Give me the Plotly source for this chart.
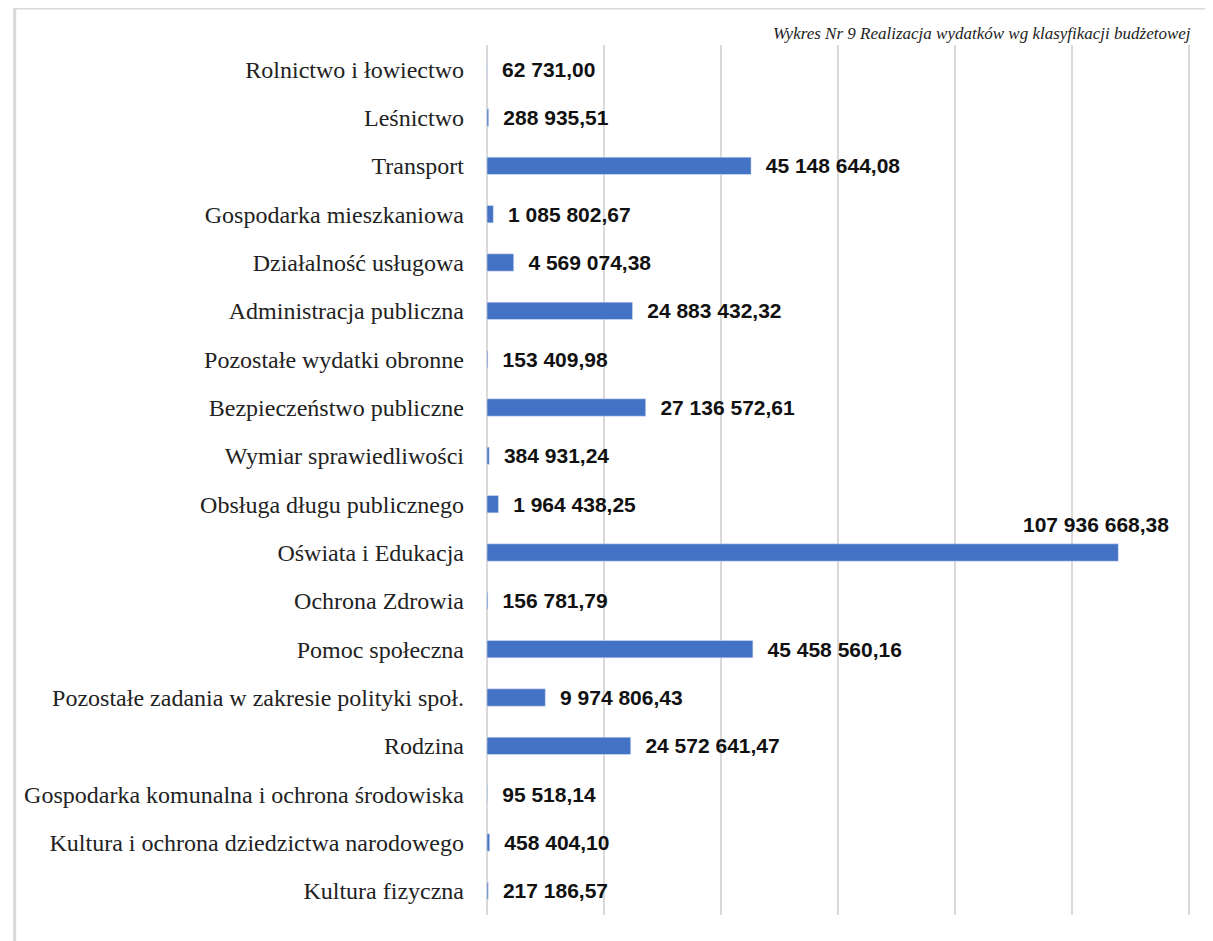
import plotly.graph_objects as go

categories = [
    "Rolnictwo i łowiectwo",
    "Leśnictwo",
    "Transport",
    "Gospodarka mieszkaniowa",
    "Działalność usługowa",
    "Administracja publiczna",
    "Pozostałe wydatki obronne",
    "Bezpieczeństwo publiczne",
    "Wymiar sprawiedliwości",
    "Obsługa długu publicznego",
    "Oświata i Edukacja",
    "Ochrona Zdrowia",
    "Pomoc społeczna",
    "Pozostałe zadania w zakresie polityki społ.",
    "Rodzina",
    "Gospodarka komunalna i ochrona środowiska",
    "Kultura i ochrona dziedzictwa narodowego",
    "Kultura fizyczna",
]
values = [
    62731.00, 288935.51, 45148644.08, 1085802.67, 4569074.38, 24883432.32,
    153409.98, 27136572.61, 384931.24, 1964438.25, 107936668.38, 156781.79,
    45458560.16, 9974806.43, 24572641.47, 95518.14, 458404.10, 217186.57,
]
chart_title = "Wykres Nr 9 Realizacja wydatków wg klasyfikacji budżetowej"

label_font = dict(family="Liberation Sans, Arial, sans-serif", size=21, color="#111111")

# the biggest bar gets its label above the bar, like in the source chart
top_idx = values.index(max(values))
templates = ["" if i == top_idx else "\u00a0\u00a0<b>%{x:,.2f}</b>" for i in range(len(values))]

fig = go.Figure(go.Bar(
    x=values,
    y=categories,
    orientation="h",
    marker=dict(color="#4472C4"),
    width=0.36,
    texttemplate=templates,
    textposition="outside",
    constraintext="none",
    cliponaxis=False,
    textfont=label_font,
))

fig.add_annotation(
    x=values[top_idx], y=categories[top_idx],
    text="<b>{:,.2f}</b>".format(values[top_idx]).replace(",", " ").replace(".", ","),
    showarrow=False, xanchor="center", yanchor="bottom", xshift=-22, yshift=15,
    font=label_font,
)

fig.add_annotation(
    x=1, xref="paper", y=1, yref="paper",
    xanchor="right", yanchor="bottom",
    text="<i>" + chart_title + "</i>", showarrow=False,
    font=dict(family="Liberation Serif, Times New Roman, serif", size=17, color="#222222"),
)

# light chart-area frame (top and left edges)
fig.add_shape(type="line", xref="paper", yref="paper", x0=-0.669, x1=1.05, y0=1.0425, y1=1.0425,
              line=dict(color="#d9d9d9", width=3))
fig.add_shape(type="line", xref="paper", yref="paper", x0=-0.669, x1=-0.669, y0=-0.05, y1=1.0425,
              line=dict(color="#d9d9d9", width=3))

fig.update_layout(
    width=1205,
    height=933,
    margin=dict(t=37, r=20, b=26, l=479),
    plot_bgcolor="white",
    paper_bgcolor="white",
    separators=", ",
    showlegend=False,
    font=dict(family="Liberation Serif, Times New Roman, serif", size=24, color="#222222"),
    xaxis=dict(
        range=[0, 120700000],
        tick0=0,
        dtick=20000000,
        showgrid=True,
        gridcolor="#d9d9d9",
        gridwidth=2,
        showticklabels=False,
        zeroline=True,
        zerolinecolor="#d9d9d9",
        zerolinewidth=2,
        fixedrange=True,
    ),
    yaxis=dict(
        autorange="reversed",
        showgrid=False,
        ticks="",
        ticklabelstandoff=22,
        automargin=False,
        fixedrange=True,
    ),
)

fig.write_html("out.html")
